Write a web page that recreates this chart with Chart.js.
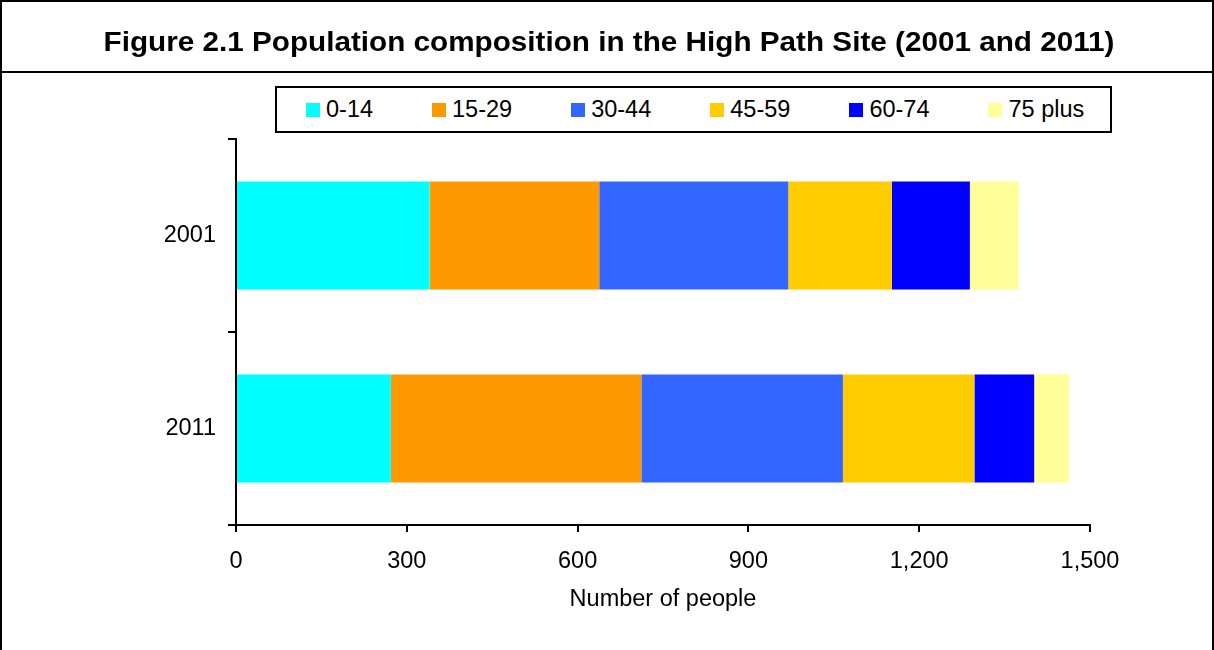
<!DOCTYPE html>
<html>
<head>
<meta charset="utf-8">
<script src="https://cdn.jsdelivr.net/npm/chart.js@4"></script>
<style>
  body { margin: 0; background: #fff; font-family: "Liberation Sans", Arial, sans-serif; }
  #page { position: relative; width: 1214px; height: 650px; overflow: hidden; }
  #frame { position: absolute; left: 0; top: 0; width: 1210px; height: 660px; border: 2px solid #000; }
  #rule { position: absolute; left: 0; top: 71px; width: 1214px; height: 2px; background: #000; }
  #title { position: absolute; left: 0; top: 28px; width: 1218px; text-align: center;
           font-weight: bold; font-size: 28px; line-height: 28px; color: #000;
           transform: scaleX(1.06); transform-origin: 609px 0; white-space: nowrap; }
  #legend { position: absolute; left: 275px; top: 86px; height: 43px; width: 804px;
            border: 2px solid #000; display: flex; align-items: center; gap: 59px;
            padding-left: 29px; background: #fff; z-index: 2; }
  .item { display: flex; align-items: center; font-size: 23.5px; color: #000; white-space: nowrap; }
  .box { width: 14px; height: 14px; margin-right: 6px; }
  #chart { position: absolute; left: 0; top: 0; }
</style>
</head>
<body>
<div id="page">
  <canvas id="chart" width="1214" height="650"></canvas>
  <div id="frame"></div>
  <div id="rule"></div>
  <div id="title">Figure 2.1 Population composition in the High Path Site (2001 and 2011)</div>
  <div id="legend"></div>
</div>
<script>
const years = ['2001', '2011'];
const ageGroups = ['0-14', '15-29', '30-44', '45-59', '60-74', '75 plus'];
const colours = ['#00FFFF', '#FF9900', '#3366FF', '#FFCC00', '#0000FF', '#FFFF99'];
const age0to14 = [340, 272];
const age15to29 = [298, 440];
const age30to44 = [332, 354];
const age45to59 = [182, 231];
const age60to74 = [137, 105];
const age75plus = [86, 61];
const xTicks = [0, 300, 600, 900, 1200, 1500];

const seriesValues = [age0to14, age15to29, age30to44, age45to59, age60to74, age75plus];

// Legend entries, drawn in a boxed row like the original
const legendDiv = document.getElementById('legend');
ageGroups.forEach((label, i) => {
    const item = document.createElement('div');
    item.className = 'item';
    item.innerHTML = `<span class="box" style="background:${colours[i]}"></span><span>${label}</span>`;
    legendDiv.appendChild(item);
});

const font = { family: '"Liberation Sans", Arial, sans-serif', size: 23.5 };

new Chart(document.getElementById('chart').getContext('2d'), {
    type: 'bar',
    data: {
        labels: years,
        datasets: ageGroups.map((label, i) => ({
            label: label,
            data: seriesValues[i],
            backgroundColor: colours[i],
            borderWidth: 0,
            barPercentage: 0.56,
            categoryPercentage: 1
        }))
    },
    options: {
        indexAxis: 'y',
        responsive: false,
        animation: false,
        devicePixelRatio: 1,
        layout: { padding: { top: 139, right: 124, left: 0, bottom: 0 } },
        plugins: {
            legend: { display: false },
            tooltip: { enabled: false }
        },
        scales: {
            x: {
                stacked: true,
                min: 0,
                max: 1500,
                afterBuildTicks: scale => { scale.ticks = xTicks.map(v => ({ value: v })); },
                afterFit: scale => { scale.height = 125; },
                grid: { drawOnChartArea: false, color: '#000', lineWidth: 2, tickLength: 7 },
                border: { color: '#000', width: 2 },
                ticks: { color: '#000', font: font, padding: 15, maxRotation: 0 },
                title: { display: true, text: 'Number of people', color: '#000', font: font,
                         padding: { top: 0, bottom: 36 } }
            },
            y: {
                stacked: true,
                afterFit: scale => { scale.width = 236; },
                grid: { drawOnChartArea: false, color: '#000', lineWidth: 2, tickLength: 8, offset: true },
                border: { color: '#000', width: 2 },
                ticks: { color: '#000', font: font, padding: 12 }
            }
        }
    }
});
</script>
</body>
</html>
